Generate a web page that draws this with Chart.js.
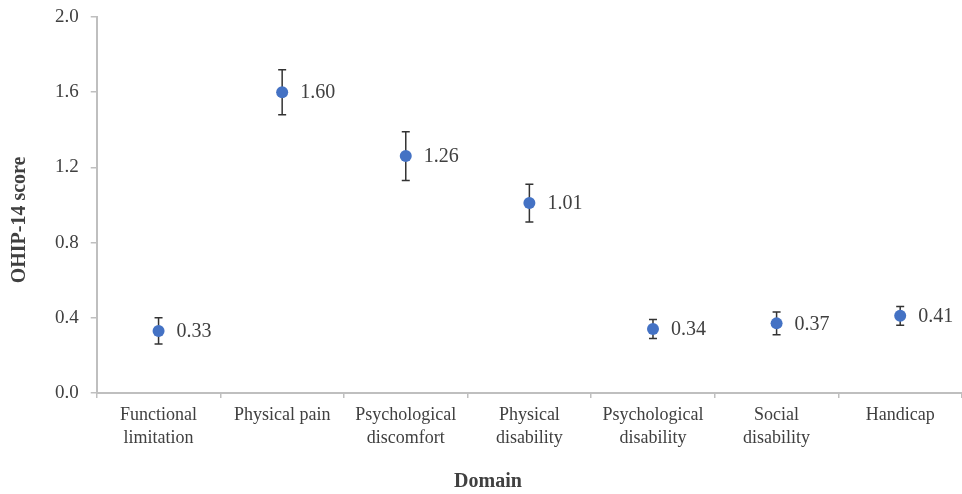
<!DOCTYPE html>
<html>
<head>
<meta charset="utf-8">
<script src="https://cdn.jsdelivr.net/npm/chart.js@4/dist/chart.umd.min.js"></script>
<style>
  html, body { margin: 0; padding: 0; background: #fff; overflow: hidden; }
  #wrap { width: 968px; height: 494px; position: relative; }
</style>
</head>
<body>
<div id="wrap"><canvas id="c"></canvas></div>
<script>
const categories = [
  ["Functional", "limitation"],
  ["Physical pain"],
  ["Psychological", "discomfort"],
  ["Physical", "disability"],
  ["Psychological", "disability"],
  ["Social", "disability"],
  ["Handicap"]
];
const meanScores = [0.33, 1.60, 1.26, 1.01, 0.34, 0.37, 0.41];
const errorValues = [0.07, 0.12, 0.13, 0.10, 0.05, 0.06, 0.05];
const valueLabels = ["0.33", "1.60", "1.26", "1.01", "0.34", "0.37", "0.41"];
const yTicks = [0.0, 0.4, 0.8, 1.2, 1.6, 2.0];

const textColor = "#404040";
const axisColor = "#bfbfbf";
const serif = "'Liberation Serif', 'Times New Roman', serif";

const errorBarPlugin = {
  id: "errorBars",
  beforeDatasetsDraw(chart) {
    const ctx = chart.ctx;
    const xs = chart.scales.x, ys = chart.scales.y;
    ctx.save();
    ctx.strokeStyle = "#333333";
    ctx.lineWidth = 1.5;
    meanScores.forEach((m, i) => {
      const x = xs.getPixelForValue(i);
      const yt = ys.getPixelForValue(m + errorValues[i]);
      const yb = ys.getPixelForValue(m - errorValues[i]);
      ctx.beginPath();
      ctx.moveTo(x, yt); ctx.lineTo(x, yb);
      ctx.moveTo(x - 4, yt); ctx.lineTo(x + 4, yt);
      ctx.moveTo(x - 4, yb); ctx.lineTo(x + 4, yb);
      ctx.stroke();
    });
    ctx.restore();
  },
  afterDatasetsDraw(chart) {
    const ctx = chart.ctx;
    const xs = chart.scales.x, ys = chart.scales.y;
    ctx.save();
    ctx.fillStyle = textColor;
    ctx.font = "20px " + serif;
    ctx.textAlign = "left";
    ctx.textBaseline = "middle";
    meanScores.forEach((m, i) => {
      const x = xs.getPixelForValue(i);
      const y = ys.getPixelForValue(m);
      ctx.fillText(valueLabels[i], x + 18, y + 1);
    });
    ctx.restore();
  }
};

new Chart(document.getElementById("c"), {
  type: "line",
  data: {
    labels: categories,
    datasets: [{
      data: meanScores,
      showLine: false,
      pointRadius: 6,
      pointHoverRadius: 6,
      pointBackgroundColor: "#4472C4",
      pointBorderColor: "#4472C4",
      pointBorderWidth: 0
    }]
  },
  options: {
    responsive: true,
    maintainAspectRatio: false,
    animation: false,
    events: [],
    layout: { padding: { top: 0, left: 8, right: 0, bottom: 0 } },
    plugins: {
      legend: { display: false },
      tooltip: { enabled: false },
      title: {
        display: true,
        position: "bottom",
        text: "Domain",
        color: textColor,
        font: { family: serif, size: 20, weight: "bold" },
        padding: { top: 14, bottom: 0 }
      }
    },
    scales: {
      x: {
        type: "category",
        offset: true,
        grid: { display: true, drawOnChartArea: false, drawTicks: true, tickLength: 5, color: axisColor, offset: true, lineWidth: 1.5 },
        border: { display: true, color: axisColor, width: 2 },
        ticks: { color: textColor, font: { family: serif, size: 18, lineHeight: 1.28 }, padding: 6, maxRotation: 0, autoSkip: false }
      },
      y: {
        min: 0,
        max: 2,
        afterBuildTicks(scale) { scale.ticks = yTicks.map(v => ({ value: v })); },
        afterFit(scale) { scale.paddingTop = 17; },
        grid: { display: true, drawOnChartArea: false, drawTicks: true, tickLength: 6, color: axisColor, lineWidth: 1.5 },
        border: { display: true, color: axisColor, width: 2 },
        ticks: { color: textColor, font: { family: serif, size: 19 }, padding: 12, callback: v => Number(v).toFixed(1) },
        title: {
          display: true,
          text: "OHIP-14 score      ",
          color: textColor,
          font: { family: serif, size: 20, weight: "bold" },
          padding: { top: 0, bottom: 11 }
        }
      }
    }
  },
  plugins: [errorBarPlugin]
});
</script>
</body>
</html>
